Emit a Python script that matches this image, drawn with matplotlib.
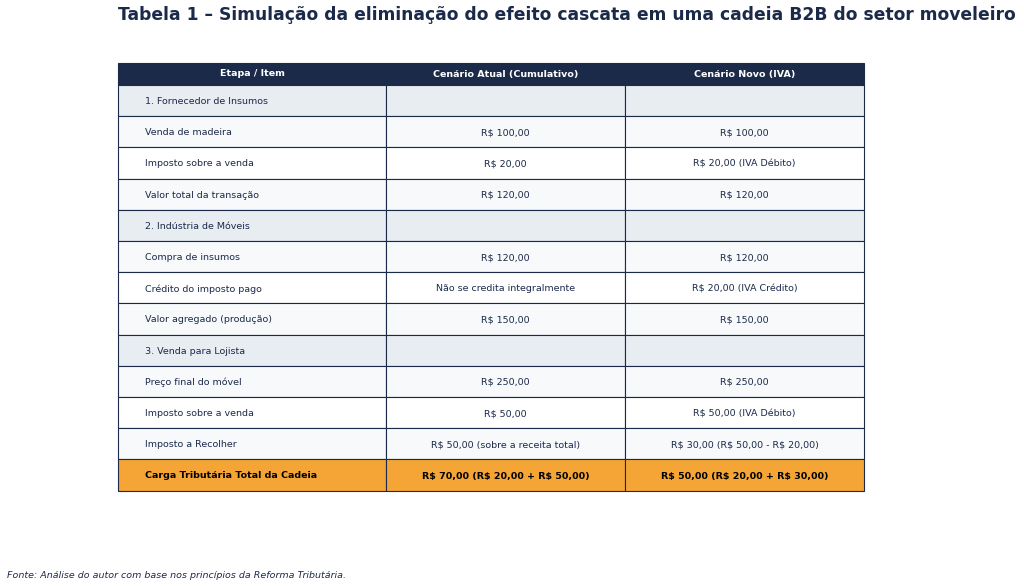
import matplotlib
matplotlib.use("Agg")
import matplotlib.pyplot as plt
from matplotlib.patches import Rectangle

HEADER = ["Etapa / Item", "Cenário Atual (Cumulativo)", "Cenário Novo (IVA)"]
ITEMS = ["1. Fornecedor de Insumos", "Venda de madeira", "Imposto sobre a venda",
         "Valor total da transação", "2. Indústria de Móveis", "Compra de insumos",
         "Crédito do imposto pago", "Valor agregado (produção)", "3. Venda para Lojista",
         "Preço final do móvel", "Imposto sobre a venda", "Imposto a Recolher",
         "Carga Tributária Total da Cadeia"]
ATUAL = ["", "R$ 100,00", "R$ 20,00", "R$ 120,00", "", "R$ 120,00",
         "Não se credita integralmente", "R$ 150,00", "", "R$ 250,00", "R$ 50,00",
         "R$ 50,00 (sobre a receita total)", "R$ 70,00 (R$ 20,00 + R$ 50,00)"]
NOVO = ["", "R$ 100,00", "R$ 20,00 (IVA Débito)", "R$ 120,00", "", "R$ 120,00",
        "R$ 20,00 (IVA Crédito)", "R$ 150,00", "", "R$ 250,00", "R$ 50,00 (IVA Débito)",
        "R$ 30,00 (R$ 50,00 - R$ 20,00)", "R$ 50,00 (R$ 20,00 + R$ 30,00)"]
SECTIONS = {0, 4, 8}

NAVY = "#1c2a4a"
TEXT = "#1c2a4a"
W, H = 1024, 586
fig = plt.figure(figsize=(W / 100, H / 100), dpi=100)
ax = fig.add_axes([0, 0, 1, 1])
ax.set_xlim(0, W)
ax.set_ylim(H, 0)
ax.axis("off")

cols = [118, 386, 625, 864]
top, head_h, row_h = 63, 22, 31.2

def cell(x0, x1, y0, h, fc):
    ax.add_patch(Rectangle((x0, y0), x1 - x0, h, facecolor=fc, edgecolor=NAVY, linewidth=0.8))

for j, t in enumerate(HEADER):
    cell(cols[j], cols[j + 1], top, head_h, NAVY)
    ax.text((cols[j] + cols[j + 1]) / 2, top + head_h / 2, t, color="white",
            fontsize=6.8, fontweight="bold", ha="center", va="center")

for i in range(len(ITEMS)):
    y0 = top + head_h + i * row_h
    last = i == len(ITEMS) - 1
    if last:
        fc = "#f4a536"
    elif i in SECTIONS:
        fc = "#e8edf2"
    else:
        fc = "white" if (i % 4) == 2 else "#f7f9fb"
    color = "black" if last else TEXT
    fw = "bold" if last else "normal"
    for j, vals in enumerate([ITEMS, ATUAL, NOVO]):
        cell(cols[j], cols[j + 1], y0, row_h, fc)
        if j == 0:
            ax.text(cols[0] + 27, y0 + row_h / 2, vals[i], fontsize=6.8, color=color,
                    fontweight=fw, ha="left", va="center_baseline")
        else:
            ax.text((cols[j] + cols[j + 1]) / 2, y0 + row_h / 2, vals[i], fontsize=6.8,
                    color=color, fontweight=fw, ha="center", va="center_baseline")

ax.text(118, 15, "Tabela 1 – Simulação da eliminação do efeito cascata em uma cadeia B2B do setor moveleiro",
        fontsize=12.3, fontweight="bold", color=TEXT, ha="left", va="center")
ax.text(7, 575, "Fonte: Análise do autor com base nos princípios da Reforma Tributária.",
        fontsize=6.8, style="italic", color=TEXT, ha="left", va="center")

fig.savefig("out.png", dpi=100, facecolor="white")
